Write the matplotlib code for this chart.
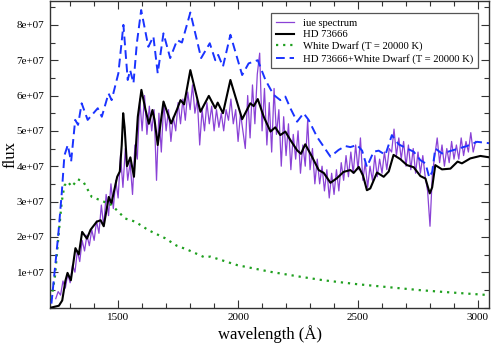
import numpy as np
import matplotlib
matplotlib.use("Agg")
import matplotlib.pyplot as plt
from matplotlib.ticker import MultipleLocator

plt.rcParams['font.family'] = ['Liberation Serif', 'DejaVu Serif']

SCALE = 1e7  # flux values below are in units of 1e7

# IUE spectrum (wavelength grid 1240..2990 step 10 A)
iue_wave = list(range(1240, 3000, 10))
iue_flux = [
    0.25, 0.45, 0.35, 0.75, 0.55, 0.95, 0.70, 1.20, 1.00, 1.60,
    1.30, 1.90, 1.60, 2.05, 1.75, 2.20, 1.90, 2.45, 2.10, 2.90,
    2.30, 3.20, 2.60, 3.50, 2.80, 3.60, 3.10, 4.30, 3.40, 4.50,
    3.60, 4.10, 3.20, 4.60, 4.20, 5.90, 5.00, 6.00, 4.90, 5.70,
    5.00, 5.60, 3.60, 5.50, 4.40, 5.80, 5.00, 5.60, 4.70, 5.40,
    5.00, 5.80, 5.20, 5.90, 5.30, 6.10, 5.60, 6.30, 5.50, 5.90,
    4.60, 5.60, 5.00, 5.80, 5.20, 5.70, 5.00, 5.60, 5.10, 5.50,
    5.00, 5.60, 5.30, 5.90, 5.20, 5.60, 4.70, 5.50, 5.00, 4.50,
    6.00, 4.80, 6.30, 5.20, 6.60, 7.20, 5.00, 6.20, 4.60, 5.80,
    4.40, 6.20, 4.90, 5.60, 4.00, 5.40, 4.30, 5.20, 3.90, 4.90,
    4.20, 5.00, 3.80, 4.60, 4.00, 5.30, 3.90, 4.50, 3.50, 4.20,
    3.50, 4.00, 3.30, 3.90, 3.10, 3.80, 3.20, 3.90, 3.30, 4.10,
    3.60, 4.30, 3.70, 4.40, 3.80, 4.60, 3.90, 4.80, 3.60, 4.10,
    3.40, 4.00, 3.60, 4.30, 3.70, 4.20, 3.80, 4.40, 3.90, 4.50,
    4.40, 5.05, 4.30, 4.80, 4.20, 4.70, 4.00, 4.60, 3.90, 4.50,
    3.80, 4.40, 3.80, 4.30, 3.70, 3.30, 2.30, 3.80, 4.30, 4.80,
    4.10, 4.60, 4.00, 4.50, 4.10, 4.70, 4.20, 4.60, 4.20, 4.80,
    4.30, 4.70, 4.40, 4.95, 4.40, 4.70,
]

# HD 73666 model
hd_wave = [1222, 1253, 1267, 1280, 1289, 1303, 1322, 1336, 1350, 1370, 1385, 1411,
           1427, 1440, 1461, 1472, 1496, 1507, 1515, 1521, 1527, 1537, 1551, 1566,
           1582, 1597, 1614, 1628, 1643, 1652, 1665, 1689, 1721, 1745, 1760, 1775,
           1801, 1843, 1878, 1905, 1915, 1937, 1968, 2017, 2051, 2065, 2082, 2107,
           2135, 2155, 2176, 2197, 2218, 2246, 2262, 2280, 2308, 2336, 2357, 2385,
           2412, 2440, 2468, 2482, 2503, 2521, 2537, 2551, 2579, 2607, 2628, 2648,
           2676, 2704, 2732, 2760, 2781, 2799, 2809, 2822, 2850, 2885, 2915, 2933,
           2968, 3010, 3048]
hd_flux = [0.00, 0.05, 0.20, 0.75, 0.98, 0.77, 1.68, 1.50, 2.14, 1.95, 2.20, 2.43,
           2.47, 2.30, 3.13, 2.95, 3.70, 3.85, 4.60, 5.50, 5.10, 4.00, 4.25, 3.70,
           5.40, 6.16, 5.60, 5.20, 5.59, 5.30, 4.60, 5.83, 5.21, 5.60, 5.87, 5.75,
           6.72, 5.54, 5.99, 5.64, 5.80, 5.50, 6.44, 5.33, 5.78, 5.70, 5.90, 5.40,
           4.98, 5.10, 4.88, 4.98, 4.74, 4.45, 4.35, 4.62, 4.27, 3.89, 3.81, 3.53,
           3.66, 3.84, 3.89, 3.81, 3.98, 3.73, 3.32, 3.37, 3.82, 3.70, 3.85, 4.32,
           4.20, 4.03, 3.97, 3.72, 3.65, 3.23, 3.40, 4.03, 3.91, 3.93, 4.13, 4.08,
           4.22, 4.29, 4.25]

# White dwarf (T = 20000 K)
wd_wave = [1222, 1237, 1251, 1265, 1276, 1290, 1307, 1332, 1355, 1390, 1425, 1473,
           1529, 1571, 1626, 1696, 1744, 1788, 1857, 1885, 1996, 2135, 2260, 2357,
           2496, 2635, 2760, 2857, 3048]
wd_flux = [0.25, 0.90, 2.00, 3.00, 3.45, 3.56, 3.42, 3.63, 3.56, 3.13, 3.04, 2.90,
           2.52, 2.43, 2.19, 1.96, 1.75, 1.64, 1.43, 1.44, 1.20, 1.01, 0.87, 0.77,
           0.66, 0.57, 0.49, 0.44, 0.35]

# HD 73666 + White dwarf
sum_wave = [1222, 1240, 1251, 1265, 1276, 1290, 1304, 1321, 1333, 1348, 1373, 1415,
            1432, 1460, 1473, 1501, 1522, 1540, 1550, 1564, 1578, 1596, 1626, 1647,
            1665, 1689, 1717, 1746, 1766, 1801, 1846, 1882, 1905, 1917, 1937, 1968,
            2017, 2044, 2082, 2114, 2148, 2176, 2197, 2218, 2246, 2273, 2294, 2329,
            2357, 2385, 2419, 2447, 2468, 2496, 2517, 2537, 2565, 2586, 2614, 2641,
            2669, 2704, 2732, 2760, 2781, 2797, 2809, 2822, 2850, 2885, 2919, 2954,
            2996, 3048]
sum_flux = [0.11, 1.34, 2.10, 3.24, 4.30, 4.60, 4.13, 5.31, 5.17, 5.78, 5.31, 5.64,
            5.40, 6.06, 5.87, 6.63, 8.00, 6.44, 6.72, 6.35, 7.48, 8.42, 7.38, 7.67,
            6.63, 7.76, 7.06, 7.57, 7.50, 8.35, 7.06, 7.48, 7.00, 7.15, 6.82, 7.72,
            6.58, 6.91, 7.00, 6.44, 6.02, 5.87, 5.97, 5.64, 5.26, 5.50, 5.31, 4.83,
            4.55, 4.27, 4.46, 4.57, 4.54, 4.60, 4.44, 3.98, 4.41, 4.44, 4.32, 4.88,
            4.62, 4.50, 4.41, 4.17, 4.08, 3.68, 3.84, 4.50, 4.36, 4.43, 4.50, 4.57,
            4.69, 4.65]

labels = ["iue spectrum", "HD 73666", "White Dwarf (T = 20000 K)",
          "HD 73666+White Dwarf (T = 20000 K)"]
ytick_vals = [1, 2, 3, 4, 5, 6, 7, 8]
ytick_labels = ["1e+07", "2e+07", "3e+07", "4e+07", "5e+07", "6e+07", "7e+07", "8e+07"]
xtick_vals = [1500, 2000, 2500, 3000]

fig = plt.figure(figsize=(4.91, 3.45), dpi=100)
ax = fig.add_axes([50 / 491, 37.5 / 345, 439.5 / 491, 307 / 345])

ax.plot(iue_wave, np.array(iue_flux) * SCALE, color='#8a42d6', lw=0.9,
        label=labels[0], zorder=2)
ax.plot(hd_wave, np.array(hd_flux) * SCALE, color='black', lw=1.5,
        label=labels[1], zorder=3)
ax.plot(wd_wave, np.array(wd_flux) * SCALE, color='#1fa01f', lw=1.6,
        linestyle=(0, (1, 2.2)), label=labels[2], zorder=3)
ax.plot(sum_wave, np.array(sum_flux) * SCALE, color='#1a33ff', lw=1.4,
        linestyle=(0, (4.5, 2.5)), label=labels[3], zorder=3)

ax.set_xlim(1216, 3048)
ax.set_ylim(0, 8.69e7)
ax.set_xticks(xtick_vals)
ax.set_xticklabels([str(v) for v in xtick_vals])
ax.xaxis.set_minor_locator(MultipleLocator(100))
ax.set_yticks([v * SCALE for v in ytick_vals])
ax.set_yticklabels(ytick_labels)
ax.yaxis.set_minor_locator(MultipleLocator(0.5 * SCALE))

ax.tick_params(which='both', direction='in', top=True, right=True,
               width=0.8, color='#333333', labelsize=8)
ax.tick_params(which='major', length=6, pad=4)
ax.tick_params(which='minor', length=3.5)
for s in ax.spines.values():
    s.set_linewidth(1.0)
    s.set_color('#333333')

ax.set_xlabel("wavelength (Å)", fontsize=12, labelpad=2)
ax.set_ylabel("flux", fontsize=12)
ax.yaxis.set_label_coords(-0.072, 0.5)

leg = ax.legend(loc='upper right', bbox_to_anchor=(0.973, 0.958), fontsize=7.7,
                frameon=True, fancybox=False, framealpha=1, edgecolor='#555555',
                handlelength=1.7, handletextpad=0.8, labelspacing=0.2,
                borderpad=0.45, borderaxespad=0)
leg.get_frame().set_linewidth(0.9)

fig.savefig("out.png", dpi=100)
